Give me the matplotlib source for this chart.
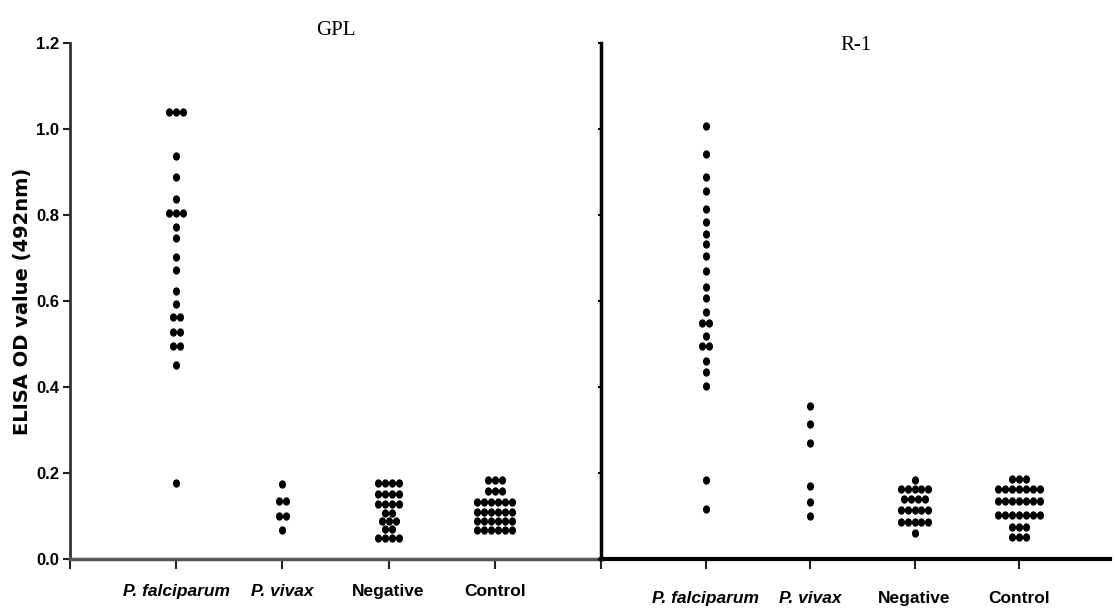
import numpy as np
import matplotlib
matplotlib.use('Agg')
import matplotlib.pyplot as plt
from matplotlib.path import Path
from matplotlib.transforms import Affine2D
from collections import Counter

# =============================================================================
# Data (ELISA OD values at 492nm)
# =============================================================================
groups = ['P. falciparum', 'P. vivax', 'Negative', 'Control']

gpl_falciparum = [1.04, 1.04, 1.04, 0.937, 0.888, 0.837, 0.805, 0.805, 0.805,
                  0.772, 0.747, 0.702, 0.672, 0.623, 0.593, 0.563, 0.563,
                  0.528, 0.528, 0.495, 0.495, 0.451, 0.177]
gpl_vivax = [0.175, 0.135, 0.135, 0.10, 0.10, 0.067]
gpl_negative = [0.177, 0.177, 0.177, 0.177, 0.152, 0.152, 0.152, 0.152,
                0.128, 0.128, 0.128, 0.128, 0.108, 0.108, 0.088, 0.088, 0.088,
                0.07, 0.07, 0.05, 0.05, 0.05, 0.05]
gpl_control = [0.184, 0.184, 0.184, 0.158, 0.158, 0.158,
               0.133, 0.133, 0.133, 0.133, 0.133, 0.133,
               0.109, 0.109, 0.109, 0.109, 0.109, 0.109,
               0.088, 0.088, 0.088, 0.088, 0.088, 0.088,
               0.067, 0.067, 0.067, 0.067, 0.067, 0.067]

r1_falciparum = [1.007, 0.942, 0.888, 0.856, 0.814, 0.784, 0.756, 0.733,
                 0.705, 0.670, 0.633, 0.607, 0.574, 0.549, 0.549, 0.519,
                 0.495, 0.495, 0.460, 0.435, 0.402, 0.184, 0.116]
r1_vivax = [0.356, 0.314, 0.270, 0.170, 0.133, 0.100]
r1_negative = [0.184, 0.163, 0.163, 0.163, 0.163, 0.163,
               0.140, 0.140, 0.140, 0.140,
               0.114, 0.114, 0.114, 0.114, 0.114,
               0.086, 0.086, 0.086, 0.086, 0.086, 0.060]
r1_control = [0.186, 0.186, 0.186,
              0.163, 0.163, 0.163, 0.163, 0.163, 0.163, 0.163,
              0.135, 0.135, 0.135, 0.135, 0.135, 0.135, 0.135,
              0.102, 0.102, 0.102, 0.102, 0.102, 0.102, 0.102,
              0.075, 0.075, 0.075, 0.051, 0.051, 0.051]

gpl_data = [gpl_falciparum, gpl_vivax, gpl_negative, gpl_control]
r1_data = [r1_falciparum, r1_vivax, r1_negative, r1_control]

yticks = [0.0, 0.2, 0.4, 0.6, 0.8, 1.0, 1.2]


def spread(values, step=0.066):
    '''
    spread
    Places tied values side by side, centred on the group position
    '''
    totals = Counter(values)
    seen = {}
    offsets = []
    for v in values:
        k = seen.get(v, 0)
        seen[v] = k + 1
        offsets.append((k - (totals[v] - 1) / 2.0) * step)
    return np.array(offsets)


# slightly tall dots, as in the scanned figure
dot = Path.unit_circle().transformed(Affine2D().scale(0.82, 1.0))

label_font = dict(family='Liberation Sans', weight='bold', size=12.5)

# =============================================================================
# Figure
# =============================================================================
fig = plt.figure(figsize=(11.15, 6.08), dpi=100)
ax1 = fig.add_axes([70 / 1115, 49 / 608, 531 / 1115, 516 / 608])
ax2 = fig.add_axes([601 / 1115, 49 / 608, 509 / 1115, 516 / 608])

for ax, data in [(ax1, gpl_data), (ax2, r1_data)]:
    for i, vals in enumerate(data):
        x = i + 1 + spread(vals)
        ax.plot(x, vals, linestyle='none', marker=dot, markersize=5.0,
                color='black', clip_on=False)
    ax.set_ylim(0, 1.2)
    ax.set_yticks(yticks)
    ax.set_xticks([0, 1, 2, 3, 4])
    ax.set_xticklabels([''] + groups, fontdict=label_font)
    for lab in ax.get_xticklabels()[1:3]:
        lab.set_style('italic')
    ax.spines['top'].set_visible(False)
    ax.spines['right'].set_visible(False)
    ax.tick_params(axis='x', length=7, width=1.5, color='#222222')

ax1.set_xlim(0, 5)
ax2.set_xlim(0, 4.87)

# left panel
ax1.set_yticklabels(['%.1f' % t for t in yticks],
                    fontdict=dict(family='Liberation Sans', weight='bold', size=12))
ax1.tick_params(axis='y', length=5, width=1.5, color='#222222', pad=3)
ax1.tick_params(axis='x', pad=11)
ax1.spines['left'].set_linewidth(2)
ax1.spines['left'].set_color('#333333')
ax1.spines['bottom'].set_linewidth(2.5)
ax1.spines['bottom'].set_color('#555555')
ax1.set_ylabel('ELISA OD value (492nm)', family='DejaVu Sans',
               weight='bold', size=14, labelpad=3)
ax1.text(0.5, 1.025, 'GPL', transform=ax1.transAxes, ha='center',
         va='center', family='Liberation Serif', size=15)

# right panel
ax2.set_yticklabels([])
ax2.tick_params(axis='y', length=2, width=1.5, color='black')
ax2.tick_params(axis='x', pad=16)
ax2.spines['left'].set_linewidth(2.5)
ax2.spines['left'].set_color('black')
ax2.spines['bottom'].set_linewidth(3)
ax2.spines['bottom'].set_color('black')
ax2.text(0.5, 0.996, 'R-1', transform=ax2.transAxes, ha='center',
         va='center', family='Liberation Serif', size=15)

fig.savefig('out.png', dpi=100)
